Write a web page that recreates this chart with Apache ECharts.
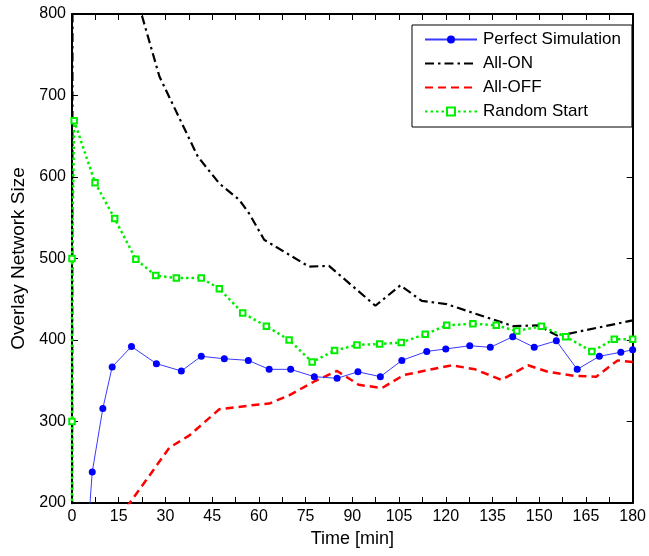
<!DOCTYPE html>
<html>
<head>
<meta charset="utf-8">
<script src="https://cdn.jsdelivr.net/npm/echarts@6/dist/echarts.min.js"></script>
<style>html,body{margin:0;padding:0;background:#fff;}#c{width:649px;height:556px;}</style>
</head>
<body>
<div id="c"></div>
<script>
// ---- data ----
var xTicks = [0, 15, 30, 45, 60, 75, 90, 105, 120, 135, 150, 165, 180];
var yTicks = [200, 300, 400, 500, 600, 700, 800];

var perfectT = [2.0, 6.5, 9.9, 12.9, 19.1, 27.1, 35.1, 41.5, 48.9, 56.6, 63.3, 70.2, 77.8, 85.1, 91.8, 99.0, 105.9, 113.9, 120.0, 127.7, 134.3, 141.5, 148.4, 155.5, 162.2, 169.3, 176.2, 180];
var perfectV = [0, 238, 316, 367, 392, 371, 362, 380, 377, 375, 364, 364, 355, 353, 361, 355, 375, 386, 389, 393, 391, 404, 391, 399, 364, 380, 385, 388];

var allOnT = [0, 0.4, 19.1, 22.3, 28.1, 40.4, 47.3, 53.7, 56.9, 61.7, 76.1, 82.5, 97.4, 105.4, 112.3, 120.3, 141.6, 149.6, 156.0, 180];
var allOnV = [0, 2000, 842, 800, 723, 625, 592, 572, 555, 523, 490, 491, 442, 467, 448, 444, 417, 418, 405, 424];

var allOffT = [0, 12.9, 31.3, 37.7, 47.3, 60.1, 63.3, 69.7, 78.2, 85.1, 92.1, 99.5, 106.5, 121.9, 129.4, 137.9, 146.4, 152.8, 161.3, 168.3, 175.2, 180];
var allOffV = [0, 170, 268, 283, 315, 321, 322, 332, 350, 362, 345, 341, 357, 369, 364, 351, 369, 361, 356, 355, 375, 373];

var randomT = [0, 0, 0, 0.7, 7.4, 13.7, 20.5, 26.9, 33.5, 41.5, 47.3, 54.8, 62.4, 69.7, 77.1, 84.3, 91.5, 98.8, 105.7, 113.4, 120.3, 128.7, 136.2, 142.8, 150.7, 158.5, 166.9, 174.1, 180];
var randomV = [0, 300, 500, 669, 593, 549, 499, 479, 476, 476, 463, 433, 417, 400, 373, 387, 394, 395, 397, 407, 418, 420, 418, 411, 417, 404, 386, 401, 401];

var seriesNames = ['Perfect Simulation', 'All-ON', 'All-OFF', 'Random Start'];

function zip(t, v) { return t.map(function (x, i) { return [x, v[i]]; }); }

var font = 'Liberation Sans, Arial, sans-serif';
var chart = echarts.init(document.getElementById('c'), null, { renderer: 'canvas' });

function axisBase(w) {
  return {
    axisLine: { show: true, onZero: false, lineStyle: { color: '#000', width: w } },
    axisTick: { show: true, inside: true, length: 6, lineStyle: { color: '#000', width: 1 } },
    splitLine: { show: false }
  };
}

chart.setOption({
  animation: false,
  backgroundColor: '#fff',
  grid: { left: 72, right: 14, top: 14, bottom: 53, containLabel: false },
  legend: {
    orient: 'vertical',
    left: 412, top: 25,
    data: [
      { name: seriesNames[0] },
      { name: seriesNames[1], itemStyle: { opacity: 0 } },
      { name: seriesNames[2], itemStyle: { opacity: 0 } },
      { name: seriesNames[3] }
    ],
    backgroundColor: '#fff',
    borderColor: '#000', borderWidth: 1, borderRadius: 0,
    padding: [6, 11, 7, 12],
    itemGap: 7,
    itemWidth: 52, itemHeight: 10,
    textStyle: { fontFamily: font, fontSize: 17, color: '#000', padding: [0, 0, 0, 1] }
  },
  xAxis: [
    Object.assign({}, axisBase(2), {
      type: 'value', min: 0, max: 180, interval: 15,
      minorTick: { show: true, splitNumber: 2, length: 6, lineStyle: { color: '#000' } },
      axisLabel: { fontFamily: font, fontSize: 16, color: '#000', margin: 6,
        formatter: function (v) { return xTicks.indexOf(v) >= 0 ? String(v) : ''; } },
      name: 'Time [min]', nameLocation: 'middle', nameGap: 27,
      nameTextStyle: { fontFamily: font, fontSize: 18, color: '#000' }
    }),
    Object.assign({}, axisBase(2), {
      type: 'value', min: 0, max: 180, interval: 15, position: 'top',
      minorTick: { show: true, splitNumber: 2, length: 6, lineStyle: { color: '#000' } },
      axisLabel: { show: false }
    })
  ],
  yAxis: [
    Object.assign({}, axisBase(2), {
      type: 'value', min: 200, max: 800, interval: 100,
      axisLabel: { fontFamily: font, fontSize: 16, color: '#000', margin: 6,
        formatter: function (v) { return yTicks.indexOf(v) >= 0 ? String(v) : ''; } },
      name: 'Overlay Network Size', nameLocation: 'middle', nameGap: 43, nameRotate: 90,
      nameTextStyle: { fontFamily: font, fontSize: 19, color: '#000' }
    }),
    Object.assign({}, axisBase(2), {
      type: 'value', min: 200, max: 800, interval: 100, position: 'right',
      axisLabel: { show: false }
    })
  ],
  series: [
    {
      name: seriesNames[0], type: 'line', data: zip(perfectT, perfectV),
      clip: true, z: 4,
      symbol: 'circle', symbolSize: 7, showSymbol: true,
      lineStyle: { color: '#3a3aff', width: 1 },
      itemStyle: { color: '#0000ff' }
    },
    {
      name: seriesNames[1], type: 'line', data: zip(allOnT, allOnV),
      clip: true, z: 2, symbol: 'none',
      lineStyle: { color: '#000', width: 2.2, type: [9, 4, 2.5, 4] },
      itemStyle: { color: '#000' }
    },
    {
      name: seriesNames[2], type: 'line', data: zip(allOffT, allOffV),
      clip: true, z: 3, symbol: 'none',
      lineStyle: { color: '#ff0000', width: 2.5, type: [8, 5] },
      itemStyle: { color: '#ff0000' }
    },
    {
      name: seriesNames[3], type: 'line', data: zip(randomT, randomV),
      clip: true, z: 3,
      symbol: 'rect', symbolSize: 5.5, showSymbol: true,
      lineStyle: { color: '#00ee00', width: 2.5, type: [2.5, 3] },
      itemStyle: { color: '#ffffff', borderColor: '#00ee00', borderWidth: 2 }
    }
  ]
});
</script>
</body>
</html>
